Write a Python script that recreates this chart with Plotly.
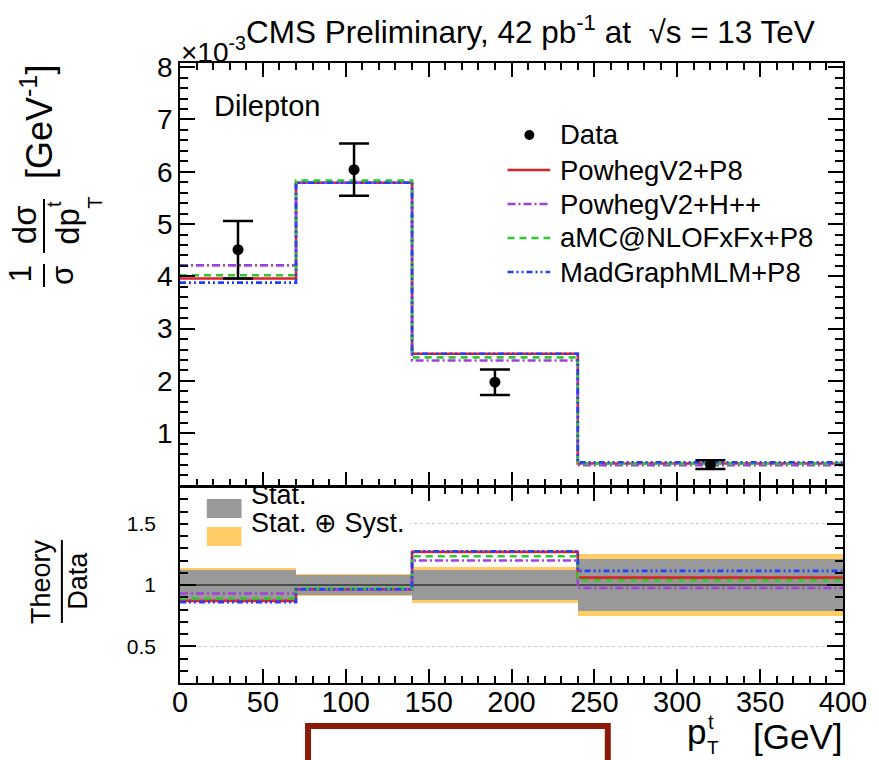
import plotly.graph_objects as go

# ---------------- data ----------------
bin_edges = [0, 70, 140, 240, 400]
data_x = [35, 105, 190, 320]
data_y = [4.51, 6.04, 1.975, 0.40]
data_err = [0.55, 0.50, 0.245, 0.085]

top_p8 = [3.96, 5.79, 2.52, 0.42]
top_hpp = [4.21, 5.79, 2.39, 0.39]
top_amc = [4.02, 5.83, 2.45, 0.415]
top_mg = [3.88, 5.79, 2.52, 0.445]

ratio_p8 = [0.87, 0.965, 1.27, 1.06]
ratio_hpp = [0.93, 0.965, 1.20, 0.975]
ratio_amc = [0.89, 0.97, 1.235, 1.04]
ratio_mg = [0.86, 0.965, 1.275, 1.115]

stat_rel = [0.122, 0.083, 0.124, 0.21]
tot_rel = [0.14, 0.092, 0.145, 0.25]

x_ticks = [0, 50, 100, 150, 200, 250, 300, 350, 400]
y_ticks = [1, 2, 3, 4, 5, 6, 7, 8]
r_ticks = [0.5, 1, 1.5]
r_ticktext = ["0.5", "1", "1.5"]

names = ["PowhegV2+P8", "PowhegV2+H++", "aMC@NLOFxFx+P8", "MadGraphMLM+P8"]
colors = ["#E0202A", "#A040D8", "#30C830", "#2040FF"]
dashes = ["solid", "8px,3px,2px,3px", "7px,5px", "6px,3px,2px,3px,2px,3px"]
widths = [2.6, 2.6, 2.6, 2.6]

# ---------------- geometry ----------------
W, H = 879, 760
L, R, T, B = 180, 31, 63, 77
PW = W - L - R
PH = H - T - B
FONT = "Liberation Sans, Arial, Helvetica, sans-serif"


def px(x):
    return (x - L) / PW


def py(y):
    return (H - B - y) / PH


centers = [(a + b) / 2 for a, b in zip(bin_edges[:-1], bin_edges[1:])]
bwidths = [b - a for a, b in zip(bin_edges[:-1], bin_edges[1:])]

fig = go.Figure()

# ---- ratio bands ----
fig.add_trace(go.Bar(x=centers, y=[2 * e for e in tot_rel], base=[1 - e for e in tot_rel],
                     width=bwidths, marker=dict(color="#FFCC66", line=dict(width=0)),
                     xaxis="x2", yaxis="y2", showlegend=False, hoverinfo="skip"))
fig.add_trace(go.Bar(x=centers, y=[2 * e for e in stat_rel], base=[1 - e for e in stat_rel],
                     width=bwidths, marker=dict(color="#999999", line=dict(width=0)),
                     xaxis="x2", yaxis="y2", showlegend=False, hoverinfo="skip"))
fig.add_trace(go.Scatter(x=[bin_edges[0], bin_edges[-1]], y=[1, 1], mode="lines",
                         line=dict(color="black", width=1.2), xaxis="x2", yaxis="y2",
                         showlegend=False, hoverinfo="skip"))

tops = [top_p8, top_hpp, top_amc, top_mg]
ratios = [ratio_p8, ratio_hpp, ratio_amc, ratio_mg]
for i in range(4):
    fig.add_trace(go.Scatter(x=bin_edges, y=tops[i] + [tops[i][-1]], mode="lines",
                             line=dict(color=colors[i], width=widths[i], dash=dashes[i], shape="hv"),
                             name=names[i], showlegend=False, xaxis="x", yaxis="y"))
    fig.add_trace(go.Scatter(x=bin_edges, y=ratios[i] + [ratios[i][-1]], mode="lines",
                             line=dict(color=colors[i], width=widths[i], dash=dashes[i], shape="hv"),
                             showlegend=False, xaxis="x2", yaxis="y2"))

fig.add_trace(go.Scatter(x=data_x, y=data_y, mode="markers", name="Data", showlegend=False,
                         marker=dict(color="black", size=11),
                         error_y=dict(type="data", array=data_err, color="black", thickness=2.5, width=15),
                         xaxis="x", yaxis="y"))

top_dom = [py(485.5), 1]
rat_dom = [0, py(487)]

axis_common = dict(showline=True, linecolor="black", linewidth=1.5, mirror="ticks",
                   ticks="inside", tickcolor="black", tickwidth=1.5, showgrid=False,
                   zeroline=False)

fig.update_layout(
    width=W, height=H,
    margin=dict(l=L, r=R, t=T, b=B, pad=0),
    paper_bgcolor="white", plot_bgcolor="white",
    font=dict(family=FONT, color="black"),
    barmode="overlay", bargap=0, showlegend=False,
    xaxis=dict(domain=[0, 1], anchor="y", range=[0, 400], matches="x2",
               tickvals=x_ticks, showticklabels=False, ticklen=14,
               minor=dict(ticks="inside", dtick=10, tick0=0, ticklen=7, tickcolor="black", tickwidth=1.5),
               **axis_common),
    yaxis=dict(domain=top_dom, anchor="x", range=[0, 8.08], tickvals=y_ticks,
               ticklen=15, tickfont=dict(size=28, family=FONT),
               minor=dict(ticks="inside", dtick=0.2, tick0=0, ticklen=8, tickcolor="black", tickwidth=1.5),
               **axis_common),
    xaxis2=dict(domain=[0, 1], anchor="y2", range=[0, 400], tickvals=x_ticks,
                ticklen=14, tickfont=dict(size=29, family=FONT), ticklabelstandoff=-8,
                minor=dict(ticks="inside", dtick=10, tick0=0, ticklen=7, tickcolor="black", tickwidth=1.5),
                **axis_common),
    yaxis2=dict(domain=rat_dom, anchor="x2", range=[0.2, 1.8], tickvals=r_ticks, ticktext=r_ticktext,
                ticklen=16, tickfont=dict(size=21, family=FONT), ticklabelstandoff=18,
                minor=dict(ticks="inside", dtick=0.1, tick0=0, ticklen=8, tickcolor="black", tickwidth=1.5,
                           showgrid=False),
                showline=True, linecolor="black", linewidth=1.5, mirror="ticks",
                ticks="inside", tickcolor="black", tickwidth=1.5, zeroline=False,
                showgrid=True, gridcolor="#C8C8C8", griddash="dot", gridwidth=1),
)

ann = []


def add_text(text, x, y, size, angle=0, xanchor="center", yanchor="middle"):
    ann.append(dict(text=text, x=px(x), y=py(y), xref="paper", yref="paper",
                    showarrow=False, textangle=angle, xanchor=xanchor, yanchor=yanchor,
                    font=dict(size=size, family=FONT, color="black")))


add_text("CMS Preliminary, 42 pb<sup>-1</sup> at  √s = 13 TeV", 533, 30, 31.5)
add_text("×10<sup>-3</sup>", 179, 50, 28, xanchor="left")
add_text("Dilepton", 268, 106, 29)

# y-axis title (rotated fractions)
add_text("1", 19, 274, 31, angle=-90)
add_text("σ", 61, 275, 31, angle=-90)
add_text("dσ", 24, 225, 33, angle=-90)
add_text("dp", 66, 226, 33, angle=-90)
add_text("t", 53, 204, 20, angle=-90)
add_text("T", 94, 203, 20, angle=-90)
add_text("[GeV<sup>-1</sup>]", 36, 122, 36, angle=-90)

# ratio y title
add_text("Theory", 40, 582, 27, angle=-90)
add_text("Data", 77, 581, 27, angle=-90)

# x title
add_text("p", 700, 731, 35)
add_text("t", 715, 722, 20)
add_text("T", 717, 748, 19)
add_text("[GeV]", 802, 736, 35)

# ratio legend text
add_text("Stat.", 250, 495, 27, xanchor="left")
add_text("Stat. ⊕ Syst.", 250, 523, 27, xanchor="left")

# top legend text
leg_rows = [135, 170, 204, 238, 272]
leg_labels = ["Data"] + names
for lab, yy in zip(leg_labels, leg_rows):
    add_text(lab, 561, yy, 27.5, xanchor="left")

fig.update_layout(annotations=ann)

shapes = [
    # ratio legend background and symbols
    dict(type="rect", xref="paper", yref="paper", x0=px(188), x1=px(412), y0=py(552), y1=py(488),
         fillcolor="white", line=dict(width=0), layer="above"),
    dict(type="rect", xref="paper", yref="paper", x0=px(207), x1=px(242), y0=py(518), y1=py(499),
         fillcolor="#999999", line=dict(width=0), layer="above"),
    dict(type="rect", xref="paper", yref="paper", x0=px(207), x1=px(242), y0=py(546), y1=py(527),
         fillcolor="#FFCC66", line=dict(width=0), layer="above"),
    # fraction bars of axis titles
    dict(type="line", xref="paper", yref="paper", x0=px(43), x1=px(43), y0=py(264), y1=py(287),
         line=dict(color="black", width=2)),
    dict(type="line", xref="paper", yref="paper", x0=px(43), x1=px(43), y0=py(199), y1=py(253),
         line=dict(color="black", width=2)),
    dict(type="line", xref="paper", yref="paper", x0=px(61), x1=px(61), y0=py(540), y1=py(623),
         line=dict(color="black", width=2)),
    # top legend symbols
    dict(type="circle", xref="paper", yref="paper", x0=px(527), x1=px(537), y0=py(140), y1=py(130),
         fillcolor="black", line=dict(width=0)),
    # red box at bottom
    dict(type="rect", xref="paper", yref="paper", x0=px(309), x1=px(611), y0=py(770), y1=py(726),
         fillcolor="white", line=dict(color="#8B1A08", width=6)),
]
for i, yy in enumerate(leg_rows[1:]):
    shapes.append(dict(type="line", xref="paper", yref="paper", x0=px(510), x1=px(553),
                       y0=py(yy), y1=py(yy),
                       line=dict(color=colors[i], width=widths[i], dash=dashes[i])))
fig.update_layout(shapes=shapes)

fig.write_html("out.html")
